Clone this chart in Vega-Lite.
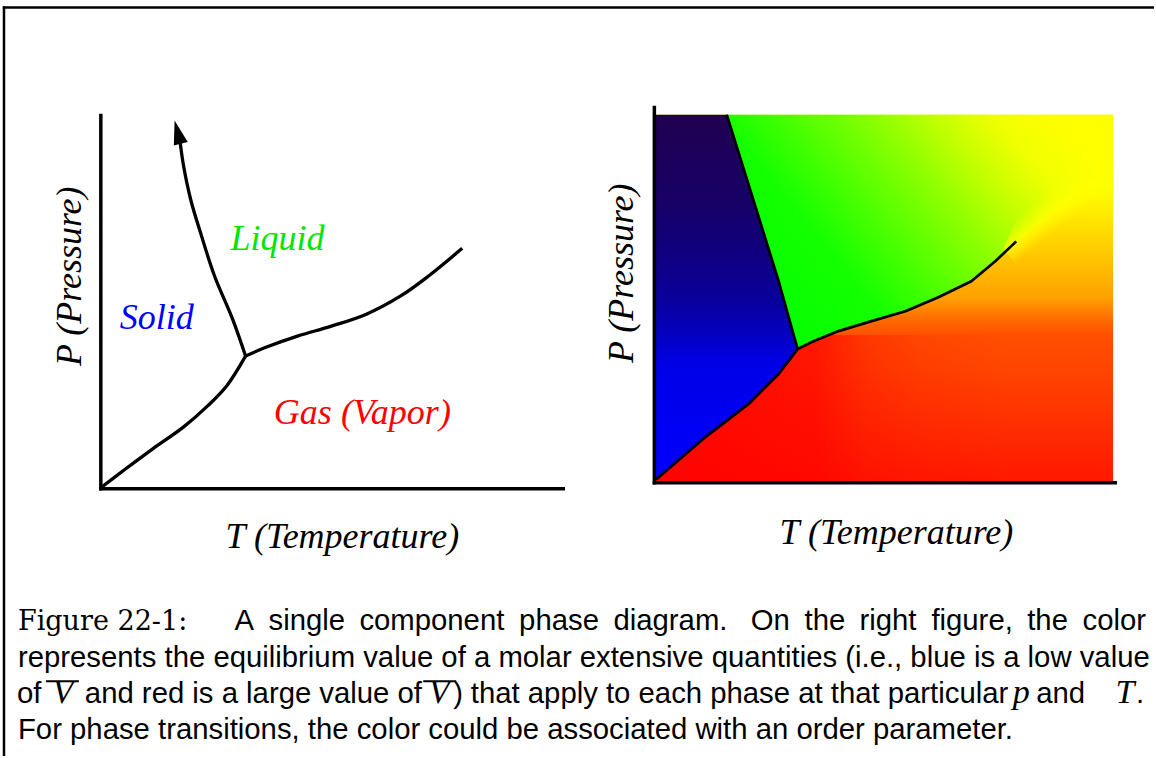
{
  "$schema": "https://vega.github.io/schema/vega-lite/v6.json",
  "width": 1156,
  "height": 758,
  "autosize": {"type": "fit", "contains": "padding"},
  "padding": 0,
  "background": "white",
  "config": {"view": {"stroke": null}},
  "datasets": {
    "base": [{"x": 656, "x2": 1115, "y": 115, "y2": 483}],
    "redshade": [{"x": 656, "x2": 1010, "y": 336, "y2": 483}],
    "liquid": [
      {"x": 728, "y": 115, "y2": 115},
      {"x": 757, "y": 115, "y2": 208},
      {"x": 780, "y": 115, "y2": 282},
      {"x": 799, "y": 115, "y2": 350},
      {"x": 813, "y": 115, "y2": 343},
      {"x": 840, "y": 115, "y2": 332},
      {"x": 873, "y": 115, "y2": 322},
      {"x": 907, "y": 115, "y2": 312},
      {"x": 940, "y": 115, "y2": 298},
      {"x": 973, "y": 115, "y2": 282},
      {"x": 997, "y": 115, "y2": 262},
      {"x": 1018, "y": 115, "y2": 242},
      {"x": 1115, "y": 115, "y2": 165}
    ],
    "band": [
      {"x": 1005, "y": 250, "y2": 250},
      {"x": 1018, "y": 220, "y2": 265},
      {"x": 1115, "y": 140, "y2": 190}
    ],
    "solid": [
      {"x": 656, "y": 115, "y2": 482},
      {"x": 707, "y": 115, "y2": 438},
      {"x": 728, "y": 115, "y2": 422},
      {"x": 750, "y": 186, "y2": 405},
      {"x": 757, "y": 208, "y2": 399},
      {"x": 780, "y": 282, "y2": 375},
      {"x": 799, "y": 350, "y2": 350}
    ],
    "curvesR": [
      {"c": "sl", "i": 0, "x": 728, "y": 115},
      {"c": "sl", "i": 1, "x": 757, "y": 208},
      {"c": "sl", "i": 2, "x": 780, "y": 282},
      {"c": "sl", "i": 3, "x": 799, "y": 350},
      {"c": "sg", "i": 0, "x": 799, "y": 350},
      {"c": "sg", "i": 1, "x": 780, "y": 375},
      {"c": "sg", "i": 2, "x": 750, "y": 405},
      {"c": "sg", "i": 3, "x": 707, "y": 438},
      {"c": "sg", "i": 4, "x": 657, "y": 481},
      {"c": "lg", "i": 0, "x": 799, "y": 350},
      {"c": "lg", "i": 1, "x": 813, "y": 343},
      {"c": "lg", "i": 2, "x": 840, "y": 332},
      {"c": "lg", "i": 3, "x": 873, "y": 322},
      {"c": "lg", "i": 4, "x": 907, "y": 312},
      {"c": "lg", "i": 5, "x": 940, "y": 298},
      {"c": "lg", "i": 6, "x": 973, "y": 282},
      {"c": "lg", "i": 7, "x": 997, "y": 262},
      {"c": "lg", "i": 8, "x": 1018, "y": 242}
    ],
    "curvesL": [
      {"c": "sg", "i": 0, "x": 101, "y": 489},
      {"c": "sg", "i": 1, "x": 126, "y": 470},
      {"c": "sg", "i": 2, "x": 153, "y": 450},
      {"c": "sg", "i": 3, "x": 184, "y": 428},
      {"c": "sg", "i": 4, "x": 208, "y": 407},
      {"c": "sg", "i": 5, "x": 227, "y": 387},
      {"c": "sg", "i": 6, "x": 246, "y": 357},
      {"c": "lg", "i": 0, "x": 246, "y": 357},
      {"c": "lg", "i": 1, "x": 267, "y": 348},
      {"c": "lg", "i": 2, "x": 298, "y": 337},
      {"c": "lg", "i": 3, "x": 332, "y": 327},
      {"c": "lg", "i": 4, "x": 367, "y": 315},
      {"c": "lg", "i": 5, "x": 401, "y": 297},
      {"c": "lg", "i": 6, "x": 429, "y": 277},
      {"c": "lg", "i": 7, "x": 463, "y": 249},
      {"c": "sl", "i": 0, "x": 246, "y": 357},
      {"c": "sl", "i": 1, "x": 233, "y": 320},
      {"c": "sl", "i": 2, "x": 215, "y": 277},
      {"c": "sl", "i": 3, "x": 202, "y": 237},
      {"c": "sl", "i": 4, "x": 191, "y": 200},
      {"c": "sl", "i": 5, "x": 184, "y": 167},
      {"c": "sl", "i": 6, "x": 180.5, "y": 143}
    ],
    "arrow": [{"x": 178, "y": 132.5}],
    "axes": [
      {"x": 101, "x2": 101, "y": 114, "y2": 491.7},
      {"x": 99.3, "x2": 566, "y": 490, "y2": 490},
      {"x": 655.5, "x2": 655.5, "y": 106, "y2": 485.7},
      {"x": 653.8, "x2": 1119, "y": 484, "y2": 484}
    ],
    "frame": [
      {"x": 2.8, "x2": 1156, "y": 7.5, "y2": 7.5},
      {"x": 4, "x2": 4, "y": 6.3, "y2": 758}
    ],
    "phaseLabels": [
      {"t": "Liquid", "x": 278, "y": 251},
      {"t": "Solid", "x": 157, "y": 330},
      {"t": "Gas (Vapor)", "x": 363, "y": 425}
    ],
    "tTitles": [
      {"t": "T (Temperature)", "x": 343, "y": 549},
      {"t": "T (Temperature)", "x": 898, "y": 545}
    ],
    "pTitles": [
      {"t": "P (Pressure)", "x": 70, "y": 277},
      {"t": "P (Pressure)", "x": 623, "y": 274}
    ],
    "capL": [
      {"t": "A", "x": 235, "y": 632},
      {"t": "single", "x": 269, "y": 632},
      {"t": "component", "x": 360, "y": 632},
      {"t": "phase", "x": 520, "y": 632},
      {"t": "diagram.", "x": 614.5, "y": 632},
      {"t": "On", "x": 752, "y": 632},
      {"t": "the", "x": 806, "y": 632},
      {"t": "right", "x": 861, "y": 632},
      {"t": "figure,", "x": 933, "y": 632},
      {"t": "the", "x": 1029, "y": 632},
      {"t": "color", "x": 1084.5, "y": 632},
      {"t": "represents the equilibrium value of a molar extensive quantities (i.e., blue is a low value", "x": 18, "y": 669},
      {"t": "of", "x": 17, "y": 705},
      {"t": "and red is a large value of", "x": 85, "y": 705},
      {"t": ")", "x": 454, "y": 705},
      {"t": "and", "x": 1038, "y": 705},
      {"t": ".", "x": 1138, "y": 705},
      {"t": "For phase transitions, the color could be associated with an order parameter.", "x": 18, "y": 741}
    ],
    "capR": [
      {"t": "that apply to each phase at that particular", "x": 1010, "y": 705}
    ],
    "capSerif": [{"t": "Figure 22-1:", "x": 18, "y": 632}],
    "math": [
      {"t": "V", "x": 63, "y": 705},
      {"t": "V", "x": 440, "y": 705},
      {"t": "p", "x": 1023, "y": 705},
      {"t": "T", "x": 1127, "y": 705}
    ],
    "overbars": [
      {"x": 46, "x2": 79, "y": 683, "y2": 683},
      {"x": 424, "x2": 457, "y": 683, "y2": 683}
    ]
  },
  "encoding": {
    "x": {"field": "x", "type": "quantitative", "scale": {"domain": [0, 1156], "nice": false, "zero": false}, "axis": null},
    "y": {"field": "y", "type": "quantitative", "scale": {"domain": [0, 758], "nice": false, "zero": false, "reverse": true}, "axis": null}
  },
  "layer": [
    {
      "data": {"name": "base"},
      "mark": {"type": "rect", "color": {"gradient": "linear", "x1": 0, "y1": 0, "x2": 0, "y2": 1, "stops": [
        {"offset": 0, "color": "#e4ff00"},
        {"offset": 0.2, "color": "#ffff00"},
        {"offset": 0.37, "color": "#ffcc00"},
        {"offset": 0.5, "color": "#ffa000"},
        {"offset": 0.56, "color": "#ff6a00"},
        {"offset": 0.6, "color": "#ff5000"},
        {"offset": 0.7, "color": "#ff4400"},
        {"offset": 1, "color": "#ff1800"}
      ]}},
      "encoding": {"x2": {"field": "x2"}, "y2": {"field": "y2"}}
    },
    {
      "data": {"name": "redshade"},
      "mark": {"type": "rect", "color": {"gradient": "linear", "x1": 0, "y1": 0, "x2": 1, "y2": 0, "stops": [
        {"offset": 0, "color": "rgba(255,0,0,0.9)"},
        {"offset": 0.45, "color": "rgba(255,0,0,0.7)"},
        {"offset": 0.6, "color": "rgba(255,0,0,0.3)"},
        {"offset": 0.75, "color": "rgba(255,0,0,0.12)"},
        {"offset": 1, "color": "rgba(255,0,0,0)"}
      ]}},
      "encoding": {"x2": {"field": "x2"}, "y2": {"field": "y2"}}
    },
    {
      "data": {"name": "liquid"},
      "mark": {"type": "area", "opacity": 1, "color": {"gradient": "linear", "x1": 0, "y1": 0.8, "x2": 1, "y2": 0.3, "stops": [
        {"offset": 0, "color": "#00ff00"},
        {"offset": 0.3, "color": "#14ff00"},
        {"offset": 0.42, "color": "#40ff00"},
        {"offset": 0.62, "color": "#8cff00"},
        {"offset": 0.75, "color": "#c4ff00"},
        {"offset": 0.87, "color": "#f0ff00"},
        {"offset": 1, "color": "#ffff00"}
      ]}},
      "encoding": {"y2": {"field": "y2"}}
    },
    {
      "data": {"name": "band"},
      "mark": {"type": "area", "opacity": 1, "color": {"gradient": "linear", "x1": 0.555, "y1": 0.323, "x2": 0.724, "y2": 0.565, "stops": [
        {"offset": 0, "color": "rgba(255,255,0,0)"},
        {"offset": 0.5, "color": "rgba(255,255,0,0.85)"},
        {"offset": 1, "color": "rgba(255,255,0,0)"}
      ]}},
      "encoding": {"y2": {"field": "y2"}}
    },
    {
      "data": {"name": "solid"},
      "mark": {"type": "area", "opacity": 1, "color": {"gradient": "linear", "x1": 0, "y1": 0, "x2": 0, "y2": 1, "stops": [
        {"offset": 0, "color": "#200050"},
        {"offset": 0.23, "color": "#180066"},
        {"offset": 0.37, "color": "#10007e"},
        {"offset": 0.5, "color": "#0a009a"},
        {"offset": 0.61, "color": "#0400c4"},
        {"offset": 0.68, "color": "#0000e6"},
        {"offset": 1, "color": "#0000ff"}
      ]}},
      "encoding": {"y2": {"field": "y2"}}
    },
    {
      "data": {"name": "curvesR"},
      "mark": {"type": "line", "color": "black", "strokeWidth": 2.7, "strokeJoin": "round"},
      "encoding": {"detail": {"field": "c"}, "order": {"field": "i", "type": "quantitative"}}
    },
    {
      "data": {"name": "curvesL"},
      "mark": {"type": "line", "color": "black", "strokeWidth": 3.3, "strokeJoin": "round", "interpolate": "catmull-rom"},
      "encoding": {"detail": {"field": "c"}, "order": {"field": "i", "type": "quantitative"}}
    },
    {
      "data": {"name": "arrow"},
      "mark": {"type": "point", "shape": "M0,-1L0.6,1L-0.6,1Z", "size": 576, "angle": -15, "filled": true, "color": "black", "opacity": 1, "strokeWidth": 0}
    },
    {
      "data": {"name": "axes"},
      "mark": {"type": "rule", "color": "black", "strokeWidth": 3.5},
      "encoding": {"x2": {"field": "x2"}, "y2": {"field": "y2"}}
    },
    {
      "data": {"name": "frame"},
      "mark": {"type": "rule", "color": "black", "strokeWidth": 2.5},
      "encoding": {"x2": {"field": "x2"}, "y2": {"field": "y2"}}
    },
    {
      "data": {"name": "phaseLabels"},
      "mark": {"type": "text", "font": "Liberation Serif", "fontStyle": "italic", "fontSize": 36, "align": "center", "baseline": "alphabetic"},
      "encoding": {
        "text": {"field": "t"},
        "color": {"field": "t", "type": "nominal", "scale": {"domain": ["Liquid", "Solid", "Gas (Vapor)"], "range": ["#00e600", "#0000ff", "#ff0000"]}, "legend": null}
      }
    },
    {
      "data": {"name": "tTitles"},
      "mark": {"type": "text", "font": "Liberation Serif", "fontStyle": "italic", "fontSize": 36, "align": "center", "baseline": "alphabetic", "color": "black"},
      "encoding": {"text": {"field": "t"}}
    },
    {
      "data": {"name": "pTitles"},
      "mark": {"type": "text", "font": "Liberation Serif", "fontStyle": "italic", "fontSize": 36, "align": "center", "baseline": "middle", "angle": 270, "color": "black"},
      "encoding": {"text": {"field": "t"}}
    },
    {
      "data": {"name": "capL"},
      "mark": {"type": "text", "font": "Liberation Sans", "fontSize": 29.3, "align": "left", "baseline": "alphabetic", "color": "black"},
      "encoding": {"text": {"field": "t"}}
    },
    {
      "data": {"name": "capR"},
      "mark": {"type": "text", "font": "Liberation Sans", "fontSize": 29.3, "align": "right", "baseline": "alphabetic", "color": "black"},
      "encoding": {"text": {"field": "t"}}
    },
    {
      "data": {"name": "capSerif"},
      "mark": {"type": "text", "font": "DejaVu Serif", "fontSize": 27, "align": "left", "baseline": "alphabetic", "color": "black"},
      "encoding": {"text": {"field": "t"}}
    },
    {
      "data": {"name": "math"},
      "mark": {"type": "text", "font": "Liberation Serif", "fontStyle": "italic", "fontSize": 34, "align": "center", "baseline": "alphabetic", "color": "black"},
      "encoding": {"text": {"field": "t"}}
    },
    {
      "data": {"name": "overbars"},
      "mark": {"type": "rule", "color": "black", "strokeWidth": 2},
      "encoding": {"x2": {"field": "x2"}, "y2": {"field": "y2"}}
    }
  ]
}
